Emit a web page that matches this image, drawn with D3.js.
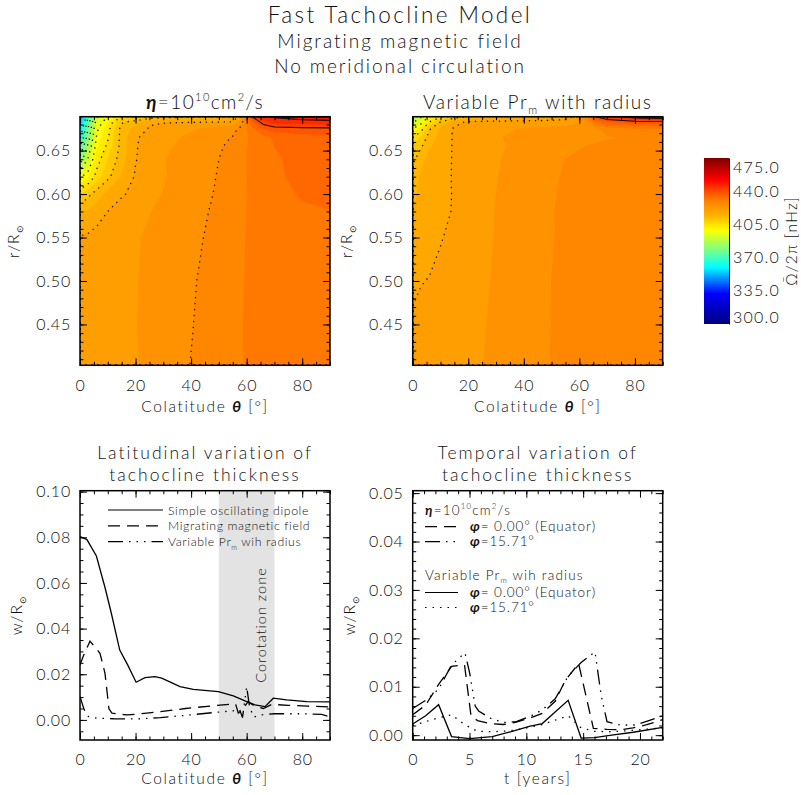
<!DOCTYPE html>
<html>
<head>
<meta charset="utf-8">
<script src="https://cdn.jsdelivr.net/npm/d3@7/dist/d3.min.js"></script>
<style>
  body { margin: 0; background: #fff; }
  text { font-family: Lato, "DejaVu Sans", sans-serif; font-weight: 300; fill: #111; letter-spacing: 0.8px; }
</style>
</head>
<body>
<script>
// ---------- data ----------
// meridional maps: rows = radius (bottom to top), columns = colatitude, values in nHz
const thetaGrid = [0, 3, 6, 10, 15, 20, 25, 30, 40, 50, 55, 58, 62, 66, 70, 80, 90];
const radiusGrid = [0.403, 0.45, 0.50, 0.55, 0.58, 0.60, 0.62, 0.64, 0.655, 0.665, 0.675, 0.683, 0.689];

const omegaEta = [
  [421.5, 421.6, 421.7, 421.9, 422.1, 422.4, 422.8, 423.8, 426.1, 428.4, 429.0, 429.4, 429.9, 430.4, 430.8, 431.2, 431.5],
  [421.6, 421.7, 421.8, 422.0, 422.2, 422.45, 422.8, 423.6, 425.8, 428.1, 428.9, 429.4, 429.9, 430.4, 430.8, 431.3, 431.6],
  [421.0, 421.2, 421.5, 421.8, 422.1, 422.4, 422.8, 423.6, 425.6, 427.6, 428.7, 429.3, 429.9, 430.4, 430.9, 431.5, 431.8],
  [419.2, 419.6, 420.3, 421.0, 421.8, 422.3, 422.8, 423.4, 425.2, 427.0, 428.4, 429.2, 429.9, 430.6, 431.2, 431.9, 432.3],
  [415.0, 416.0, 417.2, 419.0, 420.6, 421.6, 422.4, 423.1, 424.8, 426.7, 428.2, 429.1, 429.9, 430.8, 431.6, 432.5, 432.9],
  [408.0, 411.0, 413.8, 416.5, 418.6, 420.0, 421.5, 422.6, 424.5, 426.4, 428.0, 429.0, 429.9, 431.0, 432.0, 433.3, 433.9],
  [397.0, 401.0, 406.5, 411.0, 415.8, 419.4, 420.8, 422.2, 424.3, 426.2, 427.9, 429.0, 430.0, 431.3, 432.3, 434.0, 434.6],
  [380.0, 392.0, 403.0, 408.5, 414.0, 418.8, 421.0, 422.3, 424.2, 426.0, 427.7, 428.9, 430.1, 431.6, 432.5, 434.2, 434.8],
  [370.0, 386.0, 400.5, 406.0, 413.5, 418.7, 420.6, 421.8, 423.8, 425.6, 426.8, 428.4, 430.2, 431.8, 433.0, 434.6, 435.0],
  [362.0, 381.0, 398.7, 404.5, 413.5, 418.6, 420.2, 421.3, 423.2, 425.0, 426.2, 428.0, 430.2, 431.8, 433.4, 434.8, 435.2],
  [356.0, 378.0, 397.0, 403.5, 413.5, 416.5, 419.4, 420.5, 422.0, 423.8, 425.0, 426.8, 432.0, 436.5, 438.2, 438.8, 439.0],
  [350.0, 374.0, 394.0, 401.5, 411.5, 413.5, 418.5, 418.7, 418.8, 418.9, 419.1, 424.5, 436.0, 442.0, 444.8, 445.5, 445.8],
  [345.0, 370.0, 390.0, 398.0, 404.0, 407.0, 409.0, 410.0, 411.5, 413.5, 416.0, 421.0, 440.0, 446.0, 447.5, 449.0, 450.0]
];

const omegaPrm = [
  [420.0, 420.2, 420.5, 421.0, 421.6, 422.1, 422.45, 422.9, 424.2, 426.1, 426.5, 426.7, 427.0, 427.3, 427.5, 427.8, 428.0],
  [419.3, 419.7, 420.0, 420.6, 421.3, 421.9, 422.35, 422.8, 424.1, 426.05, 426.45, 426.65, 427.0, 427.3, 427.5, 427.8, 428.0],
  [418.6, 418.9, 419.1, 419.8, 420.8, 421.6, 422.2, 422.7, 424.0, 426.0, 426.4, 426.6, 426.95, 427.25, 427.45, 427.75, 427.95],
  [416.5, 417.8, 418.2, 418.8, 419.8, 421.2, 422.0, 422.6, 423.9, 425.9, 426.35, 426.6, 426.9, 427.2, 427.4, 427.7, 427.9],
  [415.5, 417.0, 417.8, 418.4, 419.2, 421.0, 421.9, 422.55, 423.8, 425.9, 426.3, 426.55, 426.9, 427.2, 427.4, 427.7, 427.9],
  [414.5, 416.5, 417.5, 418.2, 419.2, 421.0, 421.9, 422.5, 423.7, 425.8, 426.3, 426.5, 426.85, 427.15, 427.35, 427.65, 427.85],
  [413.5, 416.0, 417.2, 418.0, 419.3, 421.0, 421.8, 422.4, 423.6, 425.7, 426.2, 426.5, 426.8, 427.1, 427.3, 427.6, 427.8],
  [411.0, 414.5, 416.5, 417.8, 419.3, 420.9, 421.6, 422.3, 423.4, 425.5, 426.0, 426.3, 426.6, 426.9, 427.1, 427.4, 427.6],
  [409.0, 411.5, 415.0, 417.2, 419.4, 420.8, 421.5, 422.2, 423.0, 424.8, 425.2, 425.6, 426.0, 426.3, 426.5, 426.9, 427.1],
  [405.0, 409.0, 413.5, 416.5, 419.5, 421.0, 421.8, 422.4, 422.8, 423.8, 424.2, 424.6, 425.0, 425.4, 425.8, 426.3, 426.5],
  [398.0, 403.0, 411.5, 416.0, 419.6, 420.8, 421.6, 422.2, 422.6, 423.2, 423.6, 424.0, 424.5, 425.5, 427.0, 428.5, 429.0],
  [390.0, 396.0, 405.0, 412.0, 417.5, 419.6, 419.8, 420.0, 420.2, 420.5, 420.8, 421.5, 424.0, 432.0, 436.0, 438.5, 439.0],
  [382.0, 390.0, 398.0, 404.0, 410.0, 412.0, 413.0, 413.5, 414.5, 415.5, 417.0, 419.5, 428.0, 440.0, 444.5, 449.5, 451.0]
];

// contour line levels drawn on each map (dotted below, solid above)
const etaDotted = [363, 370, 377, 384, 391, 398, 405, 412, 419, 426];
const etaSolid = [440, 447];
const prmDotted = [384, 391, 398, 405, 412, 419];
const prmSolid = [440, 447];

// colour bar
const cbTicks = [300, 335, 370, 405, 440, 475];
const cbValues = [300, 332, 360, 379, 399, 415, 430, 442, 452, 475];
const cbColors = ["#00007f", "#0000ff", "#00ffff", "#80ff80", "#ffff00", "#ffb000", "#ff8000", "#ff4000", "#ff0000", "#7f0000"];

// latitudinal variation of thickness (colatitude in degrees, w/R_sun)
const dipoleTheta = [0, 2.5, 5.9, 9.0, 11.3, 14.3, 17.2, 20.2, 23.4, 27, 29.4, 36, 40.8, 49.8, 55.2, 59.4, 63, 66.6, 69.6, 74.4, 81.6, 90];
const dipoleW = [0.0803, 0.0790, 0.0718, 0.0580, 0.0466, 0.0306, 0.0240, 0.0165, 0.0185, 0.0190, 0.0183, 0.0146, 0.0134, 0.0124, 0.0105, 0.0083, 0.0066, 0.0058, 0.0095, 0.0088, 0.0080, 0.0079];
const migratingTheta = [0, 1.2, 3.6, 6, 7.2, 9, 9.8, 10.4, 11.5, 14, 17, 20, 24, 29, 38, 48, 54, 56, 57, 58.5, 60.5, 63, 66, 69, 75, 82, 90];
const migratingW = [0.0240, 0.0280, 0.0345, 0.0310, 0.0292, 0.0204, 0.0117, 0.0050, 0.0030, 0.0025, 0.0022, 0.0025, 0.0030, 0.0036, 0.0050, 0.0062, 0.0068, 0.0070, 0.0030, 0.0045, 0.0080, 0.0060, 0.0050, 0.0068, 0.0064, 0.0060, 0.0057];
const prmTheta = [0, 1.5, 3, 6, 12, 20, 29, 38, 48, 55, 57.5, 58.5, 60, 61, 62.5, 65, 70, 80, 87, 90];
const prmW = [0.0102, 0.0045, 0.0015, 0.0008, 0.0005, 0.0004, 0.0010, 0.0020, 0.0032, 0.0040, 0.0045, 0.0010, 0.0146, 0.0060, 0.0012, 0.0022, 0.0027, 0.0027, 0.0024, 0.0014];

// temporal variation of thickness (years, w/R_sun)
const etaEqT = [0, 1.14, 2.28, 3.42, 4.56, 5.13, 5.70, 6.84, 7.98, 9.12, 10.26, 11.4, 12.54, 13.4, 14.6, 15.9, 17.1, 18.24, 19.38, 20.52, 22.0];
const etaEqW = [0.0042, 0.0062, 0.0105, 0.0142, 0.0145, 0.0040, 0.0030, 0.0024, 0.0022, 0.0027, 0.0035, 0.0045, 0.0070, 0.0112, 0.0148, 0.0014, 0.0012, 0.0011, 0.0015, 0.0021, 0.0032];
const etaLatT = [0, 1.14, 2.28, 3.42, 4.6, 5.0, 5.5, 5.8, 6.84, 7.98, 9.12, 10.26, 11.4, 12.54, 13.68, 14.82, 16.04, 16.6, 17.1, 18.24, 19.6, 20.52, 22.0];
const etaLatW = [0.0055, 0.0072, 0.0095, 0.0145, 0.0170, 0.0130, 0.0060, 0.0050, 0.0035, 0.0026, 0.0028, 0.0038, 0.0052, 0.0075, 0.0122, 0.0150, 0.0172, 0.0080, 0.0028, 0.0021, 0.0021, 0.0028, 0.0040];
const prmEqT = [0, 1.14, 2.28, 3.42, 5.0, 7.0, 8.6, 10.26, 11.4, 13.68, 14.82, 16.0, 17.5, 19.4, 22.0];
const prmEqW = [0.0023, 0.0040, 0.0063, -0.0003, -0.0007, -0.0003, 0.0007, 0.0018, 0.0024, 0.0072, -0.0006, -0.0005, 0.0000, 0.0006, 0.0016];
const prmLatT = [0, 1.14, 2.28, 3.42, 4.56, 5.70, 7.0, 8.6, 10.26, 11.4, 12.54, 13.68, 14.82, 16.0, 17.5, 19.4, 22.0];
const prmLatW = [0.0020, 0.0028, 0.0036, 0.0042, 0.0022, 0.0008, 0.0007, 0.0009, 0.0016, 0.0022, 0.0031, 0.0040, 0.0015, 0.0008, 0.0007, 0.0010, 0.0015];

// ---------- drawing ----------
const W = 801, H = 795;
const svg = d3.select("body").append("svg").attr("width", W).attr("height", H);
const defs = svg.append("defs");

const DASH = "12,7";
const DASH3DOT = "15,6,1.5,6,1.5,6,1.5,6";
const DOT = "1.5,6";

const fillLevels = d3.range(300, 475.01, 3.5);
const color = d3.scaleLinear().domain(cbValues).range(cbColors).clamp(true);

// append text made of pieces: plain strings, or [str, "sup"|"sub"|"greek"]
function rich(t, parts, size) {
  let shift = 0;
  parts.forEach(function (p) {
    const str = typeof p === "string" ? p : p[0];
    const kind = typeof p === "string" ? "" : p[1];
    const target = kind === "sup" ? -0.42 * size : kind === "sub" ? 0.28 * size : 0;
    const ts = t.append("tspan").text(str).attr("dy", target - shift);
    if (kind === "sup" || kind === "sub") ts.attr("font-size", size * 0.58);
    if (kind === "greek") ts.attr("font-style", "italic").attr("font-weight", 700);
    shift = target;
  });
  return t;
}

function label(x, y, size, parts, anchor, rotate, spacing) {
  const t = svg.append("text").attr("font-size", size)
    .attr("text-anchor", anchor || "middle")
    .attr("transform", "translate(" + x + "," + y + ")" + (rotate ? "rotate(" + rotate + ")" : ""));
  if (spacing != null) t.style("letter-spacing", spacing + "px");
  return rich(t, parts, size);
}

// IDL-like frame: ticks inward on all four sides
function frame(box, x, y, o) {
  const g = svg.append("g");
  const minorOf = function (s, step) {
    const d = s.domain();
    return d3.range(Math.ceil(d[0] / step - 1e-6) * step, d[1] + 1e-9, step);
  };
  const styleAxis = function (sel) {
    sel.select(".domain").remove();
    sel.attr("font-size", 16).attr("font-family", null);
    sel.selectAll("line").attr("stroke", "#000").attr("stroke-width", 1);
  };
  [[d3.axisBottom, box.y1, true], [d3.axisTop, box.y0, false]].forEach(function (a) {
    g.append("g").attr("transform", "translate(0," + a[1] + ")")
      .call(a[0](x).tickValues(minorOf(x, o.xMinor)).tickSize(-3.5).tickFormat(""))
      .call(styleAxis);
    g.append("g").attr("transform", "translate(0," + a[1] + ")")
      .call(a[0](x).tickValues(o.xTicks).tickSize(-7).tickPadding(14)
        .tickFormat(a[2] ? o.xFormat : ""))
      .call(styleAxis);
  });
  [[d3.axisLeft, box.x0, true], [d3.axisRight, box.x1, false]].forEach(function (a) {
    g.append("g").attr("transform", "translate(" + a[1] + ",0)")
      .call(a[0](y).tickValues(minorOf(y, o.yMinor)).tickSize(-3.5).tickFormat(""))
      .call(styleAxis);
    g.append("g").attr("transform", "translate(" + a[1] + ",0)")
      .call(a[0](y).tickValues(o.yTicks).tickSize(-7).tickPadding(9)
        .tickFormat(a[2] ? o.yFormat : ""))
      .call(styleAxis);
  });
  g.append("rect").attr("x", box.x0).attr("y", box.y0)
    .attr("width", box.x1 - box.x0).attr("height", box.y1 - box.y0)
    .attr("fill", "none").attr("stroke", "#000").attr("stroke-width", 1.5);
}

function clipFor(id, box) {
  defs.append("clipPath").attr("id", id).append("rect")
    .attr("x", box.x0).attr("y", box.y0)
    .attr("width", box.x1 - box.x0).attr("height", box.y1 - box.y0);
  return "url(#" + id + ")";
}

// ---------- top: meridional maps ----------
const boxTL = { x0: 80, x1: 330, y0: 116.7, y1: 365.3 };
const boxTR = { x0: 412.7, x1: 662.7, y0: 116.7, y1: 365.3 };
const fmt2 = d3.format(".2f");

function drawMap(box, id, grid, dotted, solid) {
  const nx = thetaGrid.length, ny = radiusGrid.length;
  const x = d3.scaleLinear().domain([0, 90]).range([box.x0, box.x1]);
  const y = d3.scaleLinear().domain([radiusGrid[0], radiusGrid[ny - 1]]).range([box.y1, box.y0]);
  const ix = d3.scaleLinear().domain(d3.range(nx)).range(thetaGrid).clamp(true);
  const iy = d3.scaleLinear().domain(d3.range(ny)).range(radiusGrid).clamp(true);
  const path = d3.geoPath(d3.geoTransform({
    point: function (px, py) { this.stream.point(x(ix(px - 0.5)), y(iy(py - 0.5))); }
  }));
  const flat = grid.flat();
  const g = svg.append("g").attr("clip-path", clipFor(id, box));

  g.selectAll("path.band")
    .data(d3.contours().size([nx, ny]).thresholds(fillLevels)(flat))
    .join("path").attr("class", "band")
    .attr("d", path)
    .attr("fill", function (d) { return color(d.value + 1.75); })
    .attr("stroke", function (d) { return color(d.value + 1.75); })
    .attr("stroke-width", 0.6);

  g.selectAll("path.dot")
    .data(d3.contours().size([nx, ny]).thresholds(dotted)(flat))
    .join("path").attr("class", "dot")
    .attr("d", path).attr("fill", "none").attr("stroke", "#111")
    .attr("stroke-width", 1.3).attr("stroke-dasharray", "1.3,4.7");

  g.selectAll("path.sol")
    .data(d3.contours().size([nx, ny]).thresholds(solid)(flat))
    .join("path").attr("class", "sol")
    .attr("d", path).attr("fill", "none").attr("stroke", "#111").attr("stroke-width", 1.1);

  frame(box, x, y, {
    xTicks: [0, 20, 40, 60, 80], xMinor: 5, xFormat: d3.format("d"),
    yTicks: [0.45, 0.50, 0.55, 0.60, 0.65], yMinor: 0.01, yFormat: fmt2
  });
  label((box.x0 + box.x1) / 2, 412, 15.5, ["Colatitude ", ["θ", "greek"], " [°]"], "middle", 0, 1.6);
  label(box.x0 - 61, (box.y0 + box.y1) / 2, 15.5, ["r/R", ["⊙", "sub"]], "middle", -90, 1.2);
}

drawMap(boxTL, "clipTL", omegaEta, etaDotted, etaSolid);
drawMap(boxTR, "clipTR", omegaPrm, prmDotted, prmSolid);

label(205, 109, 19, [["η", "greek"], "=10", ["10", "sup"], "cm", ["2", "sup"], "/s"], "middle", 0, 1.4);
label(537.7, 109, 19, ["Variable Pr", ["m", "sub"], " with radius"], "middle", 0, 1.6);

// colour bar
const cb = { x0: 704, x1: 729, y0: 158, y1: 324 };
const grad = defs.append("linearGradient").attr("id", "cbGrad")
  .attr("x1", 0).attr("y1", 1).attr("x2", 0).attr("y2", 0);
grad.selectAll("stop").data(cbValues).join("stop")
  .attr("offset", function (v) { return (v - 300) / 175; })
  .attr("stop-color", function (v) { return color(v); });
svg.append("rect").attr("x", cb.x0).attr("y", cb.y0)
  .attr("width", cb.x1 - cb.x0).attr("height", cb.y1 - cb.y0).attr("fill", "url(#cbGrad)");
const cbScale = d3.scaleLinear().domain([300, 475]).range([cb.y1, cb.y0]);
const cbAxis = svg.append("g").attr("transform", "translate(" + cb.x1 + ",0)")
  .call(d3.axisRight(cbScale).tickValues(cbTicks).tickSize(0).tickPadding(4).tickFormat(d3.format(".1f")));
cbAxis.select(".domain").attr("stroke", "#000").attr("stroke-width", 1);
cbAxis.attr("font-size", 16).attr("font-family", null);
cbAxis.selectAll("text").style("letter-spacing", "1.2px");
cbAxis.selectAll(".tick").filter(function (d) { return d === 475; }).select("text").attr("dy", "0.9em");
cbAxis.selectAll(".tick").filter(function (d) { return d === 300; }).select("text").attr("dy", "-0.1em");
label(797, 241, 15.5, ["Ω\u0304/2π [nHz]"], "middle", -90, 1.2);

// ---------- bottom left: latitudinal variation ----------
const boxBL = { x0: 80, x1: 330, y0: 490.7, y1: 740 };
const xBL = d3.scaleLinear().domain([0, 90]).range([boxBL.x0, boxBL.x1]);
const yBL = d3.scaleLinear().domain([-0.0088, 0.1004]).range([boxBL.y1, boxBL.y0]);
const gBL = svg.append("g").attr("clip-path", clipFor("clipBL", boxBL));

gBL.append("rect").attr("x", xBL(50)).attr("y", boxBL.y0)
  .attr("width", xBL(70) - xBL(50)).attr("height", boxBL.y1 - boxBL.y0).attr("fill", "#e3e3e3");

function curve(g, xs, ys, xScale, yScale, dash) {
  const line = d3.line().x(function (d, i) { return xScale(xs[i]); }).y(function (d) { return yScale(d); });
  g.append("path").attr("d", line(ys)).attr("fill", "none").attr("stroke", "#000")
    .attr("stroke-width", 1.3).attr("stroke-dasharray", dash || null);
}
curve(gBL, dipoleTheta, dipoleW, xBL, yBL);
curve(gBL, migratingTheta, migratingW, xBL, yBL, DASH);
curve(gBL, prmTheta, prmW, xBL, yBL, DASH3DOT);

frame(boxBL, xBL, yBL, {
  xTicks: [0, 20, 40, 60, 80], xMinor: 5, xFormat: d3.format("d"),
  yTicks: [0, 0.02, 0.04, 0.06, 0.08, 0.10], yMinor: 0.005, yFormat: fmt2
});
label(266, 625, 14.5, ["Corotation zone"], "middle", -90, 1);

// legend
const legBL = [["Simple oscillating dipole"], ["Migrating magnetic field"], ["Variable Pr", ["m", "sub"], " wih radius"]];
const dashBL = [null, DASH, DASH3DOT];
legBL.forEach(function (parts, i) {
  const yy = 510 + i * 15.8;
  svg.append("line").attr("x1", 108).attr("x2", 163).attr("y1", yy).attr("y2", yy)
    .attr("stroke", "#000").attr("stroke-width", 1.2).attr("stroke-dasharray", dashBL[i]);
  label(168, yy + 4.5, 12.3, parts, "start", 0, 0.6);
});

label(205, 459, 17.5, ["Latitudinal variation of"], "middle", 0, 2);
label(205, 481, 17.5, ["tachocline thickness"], "middle", 0, 2);
label(205, 784, 15.5, ["Colatitude ", ["θ", "greek"], " [°]"], "middle", 0, 1.6);
label(22, 615, 15.5, ["w/R", ["⊙", "sub"]], "middle", -90, 1.2);

// ---------- bottom right: temporal variation ----------
const boxBR = { x0: 412.7, x1: 662.7, y0: 490.7, y1: 740 };
const xBR = d3.scaleLinear().domain([0, 22]).range([boxBR.x0, boxBR.x1]);
const yBR = d3.scaleLinear().domain([-0.001, 0.0505]).range([boxBR.y1, boxBR.y0]);
const gBR = svg.append("g").attr("clip-path", clipFor("clipBR", boxBR));

curve(gBR, etaEqT, etaEqW, xBR, yBR, DASH);
curve(gBR, etaLatT, etaLatW, xBR, yBR, DASH3DOT);
curve(gBR, prmEqT, prmEqW, xBR, yBR);
curve(gBR, prmLatT, prmLatW, xBR, yBR, DOT);

frame(boxBR, xBR, yBR, {
  xTicks: [0, 5, 10, 15, 20], xMinor: 1, xFormat: d3.format("d"),
  yTicks: [0, 0.01, 0.02, 0.03, 0.04, 0.05], yMinor: 0.002, yFormat: fmt2
});

label(425, 515, 13.5, [["η", "greek"], "=10", ["10", "sup"], "cm", ["2", "sup"], "/s"], "start", 0, 1.2);
const legBR = [
  [526.7, DASH, ["φ", "greek"], "= 0.00° (Equator)"],
  [541.7, DASH3DOT, ["φ", "greek"], "=15.71°"],
  [592.5, null, ["φ", "greek"], "= 0.00° (Equator)"],
  [607.5, DOT, ["φ", "greek"], "=15.71°"]
];
legBR.forEach(function (r) {
  svg.append("line").attr("x1", 425).attr("x2", 458).attr("y1", r[0]).attr("y2", r[0])
    .attr("stroke", "#000").attr("stroke-width", 1.2).attr("stroke-dasharray", r[1]);
  label(470, r[0] + 4.5, 13.5, [r[2], r[3]], "start", 0, 0.9);
});
label(425, 579.5, 13.5, ["Variable Pr", ["m", "sub"], " wih radius"], "start", 0, 1.2);

label(537.7, 459, 17.5, ["Temporal variation of"], "middle", 0, 2);
label(537.7, 481, 17.5, ["tachocline thickness"], "middle", 0, 2);
label(537.7, 784, 15.5, ["t [years]"], "middle", 0, 1.6);
label(355, 615, 15.5, ["w/R", ["⊙", "sub"]], "middle", -90, 1.2);

// ---------- main title ----------
label(400, 22.5, 22.5, ["Fast Tachocline Model"], "middle", 0, 2.4);
label(400, 48, 19, ["Migrating magnetic field"], "middle", 0, 2);
label(400, 73, 19, ["No meridional circulation"], "middle", 0, 1.9);
</script>
</body>
</html>
